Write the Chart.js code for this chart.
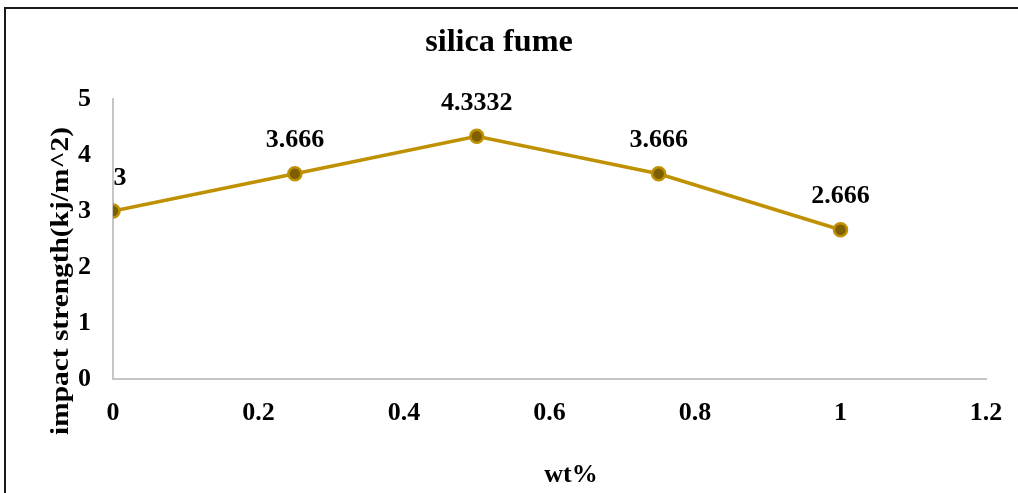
<!DOCTYPE html>
<html>
<head>
<meta charset="utf-8">
<script src="https://cdn.jsdelivr.net/npm/chart.js@4.4.0/dist/chart.umd.min.js"></script>
<style>
  html, body { margin: 0; padding: 0; background: #fff; }
  #wrap { width: 1018px; height: 493px; }
</style>
</head>
<body>
<div id="wrap"><canvas id="grafico-silica"></canvas></div>
<script>
// valores do ensaio de impacto
const teorSilica = [0, 0.25, 0.5, 0.75, 1];
const resistenciaImpacto = [3, 3.666, 4.3332, 3.666, 2.666];
const rotuloTitulo = 'silica fume';
const rotuloEixoX = 'wt%';
const rotuloEixoY = 'impact strength(kj/m^2)';

const FONTE = '"Liberation Serif", "Times New Roman", serif';
const COR_LINHA = '#BF9000';
const COR_PONTO = '#7F6000';
const COR_EIXO = '#C6C6C6';

// moldura, título e títulos dos eixos
const textosExtras = {
  id: 'textosExtras',
  beforeDraw(chart) {
    const ctx = chart.ctx;
    ctx.save();
    ctx.fillStyle = '#fff';
    ctx.fillRect(0, 0, chart.width, chart.height);
    ctx.strokeStyle = '#1a1a1a';
    ctx.lineWidth = 2;
    ctx.strokeRect(5, 8, chart.width + 50, chart.height + 50);
    ctx.restore();
  },
  afterDraw(chart) {
    const ctx = chart.ctx;
    ctx.save();
    ctx.fillStyle = '#000';
    ctx.textAlign = 'center';
    ctx.textBaseline = 'alphabetic';

    // título
    ctx.save();
    ctx.translate(499, 51);
    ctx.scale(1.04, 1);
    ctx.font = 'bold 31px ' + FONTE;
    ctx.fillText(rotuloTitulo, 0, 0);
    ctx.restore();

    // eixo x
    ctx.font = 'bold 26px ' + FONTE;
    ctx.fillText(rotuloEixoX, 571, 482);

    // eixo y
    ctx.save();
    ctx.translate(68, 281);
    ctx.rotate(-Math.PI / 2);
    ctx.scale(1.13, 1);
    ctx.font = 'bold 26px ' + FONTE;
    ctx.fillText(rotuloEixoY, 0, 0);
    ctx.restore();

    ctx.restore();
  }
};

// rótulos de valor acima de cada ponto
const rotulosValores = {
  id: 'rotulosValores',
  afterDatasetsDraw(chart) {
    const ctx = chart.ctx;
    const meta = chart.getDatasetMeta(0);
    ctx.save();
    ctx.font = 'bold 26px ' + FONTE;
    ctx.fillStyle = '#000';
    ctx.textAlign = 'center';
    ctx.textBaseline = 'middle';
    meta.data.forEach((pt, i) => {
      const dx = i === 0 ? 7 : 0;
      ctx.fillText(String(resistenciaImpacto[i]), pt.x + dx, pt.y - 33);
    });
    ctx.restore();
  }
};

function desenharGraficoSilica() {
  const ctx = document.getElementById('grafico-silica');

  new Chart(ctx, {
    type: 'line',
    data: {
      datasets: [{
        label: rotuloTitulo,
        data: teorSilica.map((x, i) => ({ x: x, y: resistenciaImpacto[i] })),
        borderColor: COR_LINHA,
        borderWidth: 3.5,
        backgroundColor: COR_PONTO,
        pointBackgroundColor: COR_PONTO,
        pointBorderColor: COR_LINHA,
        pointBorderWidth: 2.5,
        pointRadius: 6.5,
        tension: 0,
        fill: false
      }]
    },
    options: {
      responsive: true,
      maintainAspectRatio: false,
      animation: false,
      layout: { padding: { left: 0, top: 99, right: 32, bottom: 0 } },
      plugins: {
        legend: { display: false },
        title: { display: false },
        tooltip: { enabled: false }
      },
      scales: {
        x: {
          type: 'linear',
          min: 0,
          max: 1.2,
          afterFit: s => {
            s.height = 114;
            s.paddingLeft = 0;
            s.paddingRight = 0;
          },
          grid: { display: false, drawTicks: false },
          border: { display: true, color: COR_EIXO, width: 2 },
          ticks: {
            stepSize: 0.2,
            padding: 19,
            color: '#000',
            font: { family: FONTE, size: 26, weight: 'bold' },
            callback: v => String(parseFloat(v.toFixed(1)))
          }
        },
        y: {
          min: 0,
          max: 5,
          afterFit: s => { s.width = 113; },
          grid: { display: false, drawTicks: false },
          border: { display: true, color: COR_EIXO, width: 2 },
          ticks: {
            stepSize: 1,
            padding: 22,
            color: '#000',
            font: { family: FONTE, size: 26, weight: 'bold' }
          }
        }
      }
    },
    plugins: [textosExtras, rotulosValores]
  });
}

desenharGraficoSilica();
</script>
</body>
</html>
